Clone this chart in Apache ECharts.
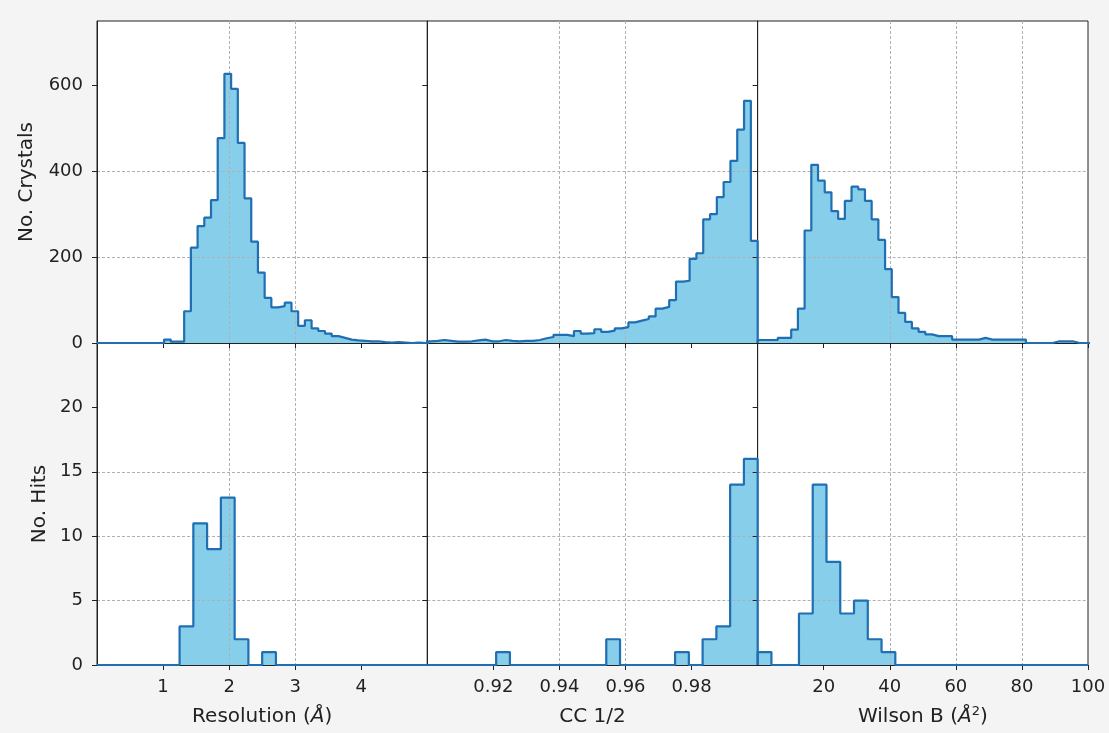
<!DOCTYPE html>
<html><head><meta charset="utf-8">
<script src="https://cdn.jsdelivr.net/npm/echarts@6/dist/echarts.min.js"></script>
<style>html,body{margin:0;padding:0;background:#f4f4f4}#c{width:1109px;height:733px}</style>
</head><body><div id="c"></div><script>
// ---- data ----
// Top row: "No. Crystals" histograms, 50 bins each
const resCrystalStart = 0, resCrystalWidth = 0.1015;
const resCrystals = [0,0,0,0,0,0,0,0,0,0, 8,3,3,74,222,272,292,333,477,627, 592,466,337,236,164,105,83,86,94,74, 40,53,34,28,22,16,12,8,6,5, 4,4,2,1,2,1,0,1,0,0];
const ccCrystalStart = 0.897, ccCrystalWidth = 0.00206;
const ccCrystals = [4,4,5,7,5,3,3,4,6,8, 4,4,7,5,4,5,5,7,11,14, 19,19,16,28,22,23,32,26,29,34, 37,48,52,56,62,80,84,100,143,145, 196,209,288,300,340,375,424,497,564,238];
const wilsonCrystalStart = 0, wilsonCrystalWidth = 2.03;
const wilsonCrystals = [7,7,7,12,12,31,80,262,415,378, 351,307,289,331,364,358,331,288,240,172, 107,70,49,34,26,20,16,16,16,8, 8,8,8,12,8,8,8,8,8,8, 0,0,0,0,4,4,4,0,0,0];
// Bottom row: "No. Hits" histograms, 24 bins each
const resHitStart = 0, resHitWidth = 5/24;
const resHits = [0,0,0,0,0,0,3,11,9,13,2,0,1,0,0,0,0,0,0,0,0,0,0,0];
const ccHitStart = 0.9, ccHitWidth = 0.1/24;
const ccHits = [0,0,0,0,0,1,0,0,0,0,0,0,0,2,0,0,0,0,1,0,2,3,14,16];
const wilsonHitStart = 0, wilsonHitWidth = 100/24;
const wilsonHits = [1,0,0,4,14,8,4,5,2,1,0,0,0,0,0,0,0,0,0,0,0,0,0,0];
// axes
const resTicks = [1,2,3,4];
const ccTicks = [0.92,0.94,0.96,0.98];
const wilsonTicks = [20,40,60,80,100];
const crystalTicks = [0,200,400,600];
const hitTicks = [0,5,10,15,20];

// ---- layout ----
const L = 97, W = 991/3, T = 21, H = 322;
const FONT = 'DejaVu Sans';
const TICK_FS = 18, NAME_FS = 20;
const cols = [
  {min:0, max:5, interval:1, ticks:resTicks, fmt:v=>String(Math.round(v)),
   name:'{t|Resolution (}{i|Å}{t|)}'},
  {min:0.9, max:1.0, interval:0.02, ticks:ccTicks, fmt:v=>Number(v).toFixed(2),
   name:'{t|CC 1/2}'},
  {min:0, max:100, interval:20, ticks:wilsonTicks, fmt:v=>String(Math.round(v)),
   name:'{t|Wilson B (}{i|Å}{s|2}{t|)}'}
];
const rows = [
  {max:750, interval:200, ticks:crystalTicks, name:'No. Crystals', gap:60,
   hists:[[resCrystalStart,resCrystalWidth,resCrystals],[ccCrystalStart,ccCrystalWidth,ccCrystals],[wilsonCrystalStart,wilsonCrystalWidth,wilsonCrystals]]},
  {max:25, interval:5, ticks:hitTicks, name:'No. Hits', gap:47,
   hists:[[resHitStart,resHitWidth,resHits],[ccHitStart,ccHitWidth,ccHits],[wilsonHitStart,wilsonHitWidth,wilsonHits]]}
];

function histPoints(start, width, counts, amin, amax){
  const pts = [[Math.min(amin,start),0],[start,0]];
  for (let i=0;i<counts.length;i++) pts.push([start+i*width, counts[i]]);
  const end = start + counts.length*width;
  pts.push([end, 0]);
  pts.push([Math.max(amax,end), 0]);
  return pts;
}

const grid=[], xAxis=[], yAxis=[], series=[];
const gridLine = {show:true, lineStyle:{color:'#b0b0b0', width:1, type:[3,2]}, showMinLine:false, showMaxLine:false};
rows.forEach((row, r)=>{
  cols.forEach((col, c)=>{
    const idx = grid.length;
    grid.push({left:L+c*W, top:T+r*H, width:W, height:H, show:true,
      backgroundColor:'#ffffff', borderColor:'#222', borderWidth:1, z:0});
    xAxis.push({type:'value', gridIndex:idx, min:col.min, max:col.max, interval:col.interval, z:2,
      axisLine:{show:true, onZero:false, lineStyle:{color:'#222', width:1}},
      axisTick:{show:true, length:5, lineStyle:{color:'#222'}, customValues:col.ticks},
      axisLabel:{show:r===1, customValues:col.ticks, formatter:col.fmt, margin:13,
        fontFamily:FONT, fontSize:TICK_FS, color:'#222'},
      splitLine:gridLine,
      name: r===1 ? col.name : '', nameLocation:'middle', nameGap:40,
      nameTextStyle:{fontFamily:FONT, fontSize:NAME_FS, color:'#222',
        rich:{t:{fontFamily:FONT,fontSize:NAME_FS,color:'#222',lineHeight:24},
              i:{fontFamily:FONT,fontSize:NAME_FS,color:'#222',fontStyle:'italic',lineHeight:24},
              s:{fontFamily:FONT,fontSize:13,color:'#222',verticalAlign:'top',lineHeight:24}}}
    });
    yAxis.push({type:'value', gridIndex:idx, min:0, max:row.max, interval:row.interval, z:2,
      axisLine:{show:true, lineStyle:{color:'#222', width:1}},
      axisTick:{show:true, length:5, lineStyle:{color:'#222'}, customValues:row.ticks},
      axisLabel:{show:c===0, customValues:row.ticks, margin:14, fontFamily:FONT, fontSize:TICK_FS, color:'#222'},
      splitLine:gridLine,
      name: c===0 ? row.name : '', nameLocation:'middle', nameGap:row.gap,
      nameTextStyle:{fontFamily:FONT, fontSize:NAME_FS, color:'#222'}
    });
    const h = row.hists[c];
    const data = histPoints(h[0], h[1], h[2], col.min, col.max);
    series.push({type:'line', xAxisIndex:idx, yAxisIndex:idx, data:data, step:'end',
      symbol:'none', silent:true, z:1, lineStyle:{width:0, opacity:0},
      areaStyle:{color:'#87ceeb', opacity:1}});
    series.push({type:'line', xAxisIndex:idx, yAxisIndex:idx, data:data, step:'end',
      symbol:'none', silent:true, z:3, lineStyle:{color:'#1f6fb2', width:2.2}});
  });
});

const chart = echarts.init(document.getElementById('c'), null, {renderer:'canvas'});
chart.setOption({backgroundColor:'#f4f4f4', animation:false, grid, xAxis, yAxis, series});
</script></body></html>
